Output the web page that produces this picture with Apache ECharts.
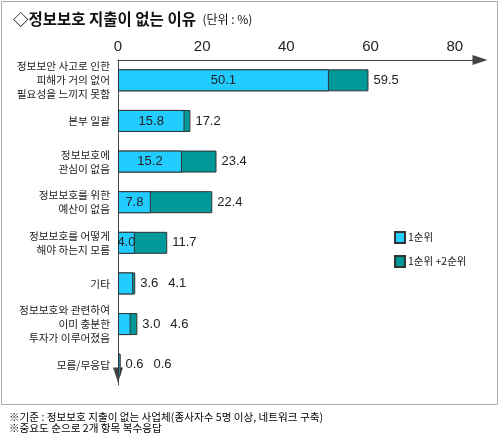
<!DOCTYPE html>
<html>
<head>
<meta charset="utf-8">
<script src="https://cdn.jsdelivr.net/npm/echarts@6/dist/echarts.min.js"></script>
<style>
html,body{margin:0;padding:0;background:#fff;}
#c{width:500px;height:437px;}
</style>
</head>
<body>
<div id="c"></div>
<script>
const categories = [
  "정보보안 사고로 인한\n피해가 거의 없어\n필요성을 느끼지 못함",
  "본부 일괄",
  "정보보호에\n관심이 없음",
  "정보보호를 위한\n예산이 없음",
  "정보보호를 어떻게\n해야 하는지 모름",
  "기타",
  "정보보호와 관련하여\n이미 충분한\n투자가 이루어졌음",
  "모름/무응답"
];
const rank1 = [50.1, 15.8, 15.2, 7.8, 4.0, 3.6, 3.0, 0.6];
const rank12 = [59.5, 17.2, 23.4, 22.4, 11.7, 4.1, 4.6, 0.6];
const seriesNames = ["1순위", "1순위 +2순위"];
const xTicks = [0, 20, 40, 60, 80];

const chart = echarts.init(document.getElementById('c'), null, {renderer: 'canvas'});
const numFont = "'Liberation Sans', Arial, sans-serif";
const krFont = "'Noto Sans CJK KR', 'Noto Sans', sans-serif";

const fmt = v => v.toFixed(1);

const totalData = rank12.map((v, i) => {
  const small = v < 10;
  return {
    value: v,
    label: small ? {
      show: true, position: 'right', distance: 5,
      formatter: '{a|' + fmt(rank1[i]) + '}{b|' + fmt(v) + '}',
      rich: {
        a: {width: 28, fontSize: 13, fontFamily: numFont, color: '#222'},
        b: {fontSize: 13, fontFamily: numFont, color: '#222'}
      }
    } : {show: true, position: 'right', distance: 5, formatter: fmt(v)}
  };
});
const firstData = rank1.map((v, i) => ({
  value: v,
  label: {show: rank12[i] >= 10, position: 'inside', formatter: fmt(v)}
}));

chart.setOption({
  backgroundColor: '#fff',
  animation: false,
  title: [{
    text: '◇정보보호 지출이 없는 이유 {s|(단위 : %)}',
    left: 8, top: 6,
    textStyle: {
      fontFamily: krFont, fontSize: 15.5, fontWeight: 'bold', color: '#111',
      rich: {s: {fontFamily: krFont, fontSize: 12, color: '#111', fontWeight: 'normal', padding: [2, 0, 0, 3]}}
    }
  }, {
    text: '※기준 : 정보보호 지출이 없는 사업체(종사자수 5명 이상, 네트워크 구축)\n※중요도 순으로 2개 항목 복수응답',
    left: 4, top: 406,
    textStyle: {fontFamily: krFont, fontSize: 10.6, fontWeight: 'normal', color: '#000', lineHeight: 11}
  }],
  graphic: [{
    type: 'rect', shape: {x: 1.5, y: 1.5, width: 496, height: 403},
    style: {fill: 'none', stroke: '#aaa', lineWidth: 1}, z: -1
  }],
  legend: {
    data: seriesNames,
    orient: 'vertical',
    left: 389, top: 226,
    itemWidth: 10, itemHeight: 11, itemGap: 11,
    icon: 'rect',
    textStyle: {fontFamily: krFont, fontSize: 10.5, color: '#222', padding: [0, 0, 0, -2]}
  },
  grid: {left: 118, right: 20, top: 60, bottom: 52, containLabel: false},
  xAxis: {
    type: 'value', position: 'top', min: 0, max: 86, interval: 20,
    axisLine: {show: true, lineStyle: {color: '#444', width: 1}, symbol: ['none', 'triangle'], symbolSize: [10, 15]},
    axisTick: {show: false},
    splitLine: {show: false},
    axisLabel: {
      margin: 6, fontSize: 15, fontFamily: numFont, color: '#222', showMaxLabel: false,
      formatter: v => xTicks.includes(v) ? String(v) : ''
    }
  },
  yAxis: {
    type: 'category', inverse: true, data: categories,
    axisLine: {show: true, lineStyle: {color: '#444', width: 1}, symbol: ['triangle', 'none'], symbolSize: [10, 15], symbolOffset: [10, 0]},
    axisTick: {show: false},
    axisLabel: {margin: 8, fontSize: 10.7, lineHeight: 14, fontFamily: krFont, color: '#222', align: 'right'}
  },
  series: [{
    name: seriesNames[1], type: 'bar', data: totalData, barWidth: 22, barGap: '-100%',
    itemStyle: {color: '#009999', borderColor: '#333', borderWidth: 1},
    label: {fontSize: 13, fontFamily: numFont, color: '#222'}
  }, {
    name: seriesNames[0], type: 'bar', data: firstData, barWidth: 22, barGap: '-100%',
    itemStyle: {color: '#22ccff', borderColor: '#333', borderWidth: 1},
    label: {fontSize: 13, fontFamily: numFont, color: '#222'}
  }]
});
</script>
</body>
</html>
